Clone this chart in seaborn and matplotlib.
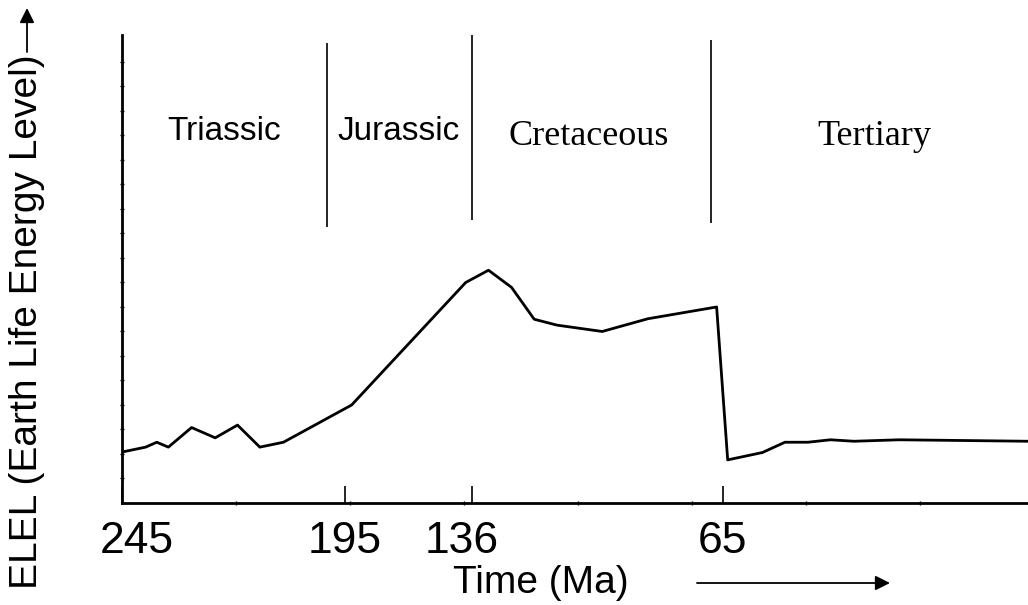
import numpy as np
import matplotlib
matplotlib.use("Agg")
import matplotlib.pyplot as plt
import matplotlib.transforms as mtransforms
from matplotlib.ticker import FixedLocator, NullFormatter
import seaborn as sns

# ---- data ----
# age (Ma) of each vertex of the ELEL curve
AGE = [245, 239.7, 237.2, 234.6, 229.4, 224.1, 219.1, 214.1, 208.8, 191.9,
       138.7, 131.2, 124.7, 118.3, 111.9, 99.1, 86.2, 66.8, 64.0, 56.6,
       51.8, 46.9, 42.1, 37.1, 27.4, 0]
# ELEL level (arbitrary units, 0 at the time axis)
ELEL = [10.4, 11.4, 12.4, 11.4, 15.4, 13.3, 15.9, 11.4, 12.4, 20.0,
        45.0, 47.5, 44.0, 37.5, 36.3, 35.0, 37.6, 40.0, 8.8, 10.3,
        12.4, 12.4, 12.9, 12.6, 12.9, 12.6]

TICK_AGES = [245, 195, 136, 65]
TICK_LABELS = ["245", "195", "136", "65"]

PERIODS = ["Triassic", "Jurassic", "Cretaceous", "Tertiary"]
PERIOD_LABEL_AGE = [222.1, 169.8, 102.8, 32.8]
PERIOD_LABEL_Y = [74.1, 74.1, 73.1, 73.1]
PERIOD_SERIF = [False, False, True, True]
BOUNDARY_AGE = [199.0, 136.0, 68.5]
BOUNDARY_LOW = [56.3, 57.8, 57.1]
BOUNDARY_HIGH = [93.9, 95.5, 94.5]

# time axis is drawn piecewise (not to scale) in the original
AGE_BK = [0, 65, 136, 195, 245]
POS_BK = [906, 601, 349.5, 223, 0]


def fwd(a):
    # increasing with age; axis is inverted afterwards
    return -np.interp(a, AGE_BK, POS_BK)


def inv(t):
    return np.interp(-np.asarray(t), POS_BK[::-1], AGE_BK[::-1])


sns.set_style("white")
plt.rcParams["font.family"] = ["Liberation Sans", "DejaVu Sans"]
plt.rcParams["text.color"] = "black"

fig = plt.figure(figsize=(10.28, 6.05), dpi=100)
ax = fig.add_axes([122 / 1028, 102 / 605, 906 / 1028, 468 / 605])
ax.set_xscale("function", functions=(fwd, inv))

sns.lineplot(x=AGE, y=ELEL, ax=ax, color="black", linewidth=2.0,
             sort=False, estimator=None)

ax.set_xlim(245, 0)
ax.set_ylim(0, 95.5)

for a, lo, hi in zip(BOUNDARY_AGE, BOUNDARY_LOW, BOUNDARY_HIGH):
    ax.vlines(a, lo, hi, color="black", linewidth=1.2)

for name, a, y, serif in zip(PERIODS, PERIOD_LABEL_AGE, PERIOD_LABEL_Y, PERIOD_SERIF):
    if serif:
        ax.text(a, y, name, ha="center", va="baseline", fontsize=26,
                color="black", family=["Liberation Serif", "DejaVu Serif"])
    else:
        ax.text(a, y, name, ha="center", va="baseline", fontsize=24,
                color="black")

for s in ["top", "right"]:
    ax.spines[s].set_visible(False)
for s in ["left", "bottom"]:
    ax.spines[s].set_color("black")
    ax.spines[s].set_linewidth(2.0)

ax.xaxis.set_major_locator(FixedLocator(TICK_AGES))
ax.set_xticklabels(TICK_LABELS)
pos_minor = np.arange(114, 906, 114)
ax.xaxis.set_minor_locator(FixedLocator(list(inv(-pos_minor))))
ax.xaxis.set_minor_formatter(NullFormatter())
ax.set_yticks([])
ax.yaxis.set_minor_locator(FixedLocator(list(np.arange(5, 95, 5))))
ax.tick_params(axis="x", which="both", bottom=True)
ax.tick_params(axis="y", which="both", left=True)
ax.tick_params(axis="x", which="major", direction="in", length=12, width=1.2,
               pad=13, labelsize=32, colors="black")
ax.tick_params(axis="both", which="minor", direction="inout", length=3,
               width=1.0, colors="black")
ax.set_xlabel("")
ax.set_ylabel("")

fig.text(541 / 1028, 1 - 593 / 605, "Time (Ma)", ha="center", va="baseline",
         fontsize=28, color="black")
fig.text(27 / 1028, 1 - 322 / 605, "ELEL (Earth Life Energy Level)",
         rotation=90, ha="center", va="center", fontsize=28, color="black")
ax.annotate("", xy=(890 / 1028, 1 - 583 / 605), xytext=(697 / 1028, 1 - 583 / 605),
            xycoords="figure fraction", textcoords="figure fraction",
            arrowprops=dict(arrowstyle="-|>", color="black", lw=1.3,
                            mutation_scale=22, shrinkA=0, shrinkB=0),
            annotation_clip=False)
ax.annotate("", xy=(27 / 1028, 1 - 8 / 605), xytext=(27 / 1028, 1 - 52 / 605),
            xycoords="figure fraction", textcoords="figure fraction",
            arrowprops=dict(arrowstyle="-|>", color="black", lw=1.3,
                            mutation_scale=22, shrinkA=0, shrinkB=0),
            annotation_clip=False)

fig.canvas.draw()
shifts = {"245": 15, "136": -10}
for lab in ax.get_xticklabels():
    dx = shifts.get(lab.get_text(), 0)
    if dx:
        lab.set_transform(lab.get_transform() +
                          mtransforms.ScaledTranslation(dx / 100, 0, fig.dpi_scale_trans))

fig.savefig("out.png", dpi=100, facecolor="white")
